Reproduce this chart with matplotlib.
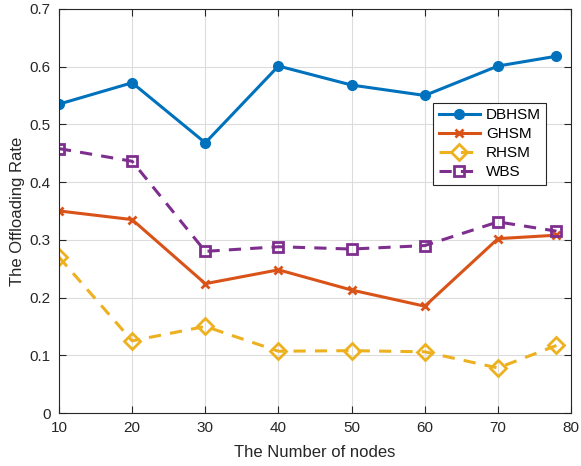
import matplotlib
matplotlib.use("Agg")
import matplotlib.pyplot as plt

plt.rcParams['font.family'] = ['Liberation Sans', 'DejaVu Sans']

nodes = [10, 20, 30, 40, 50, 60, 70, 78]
dbhsm = [0.535, 0.572, 0.468, 0.601, 0.568, 0.550, 0.601, 0.618]
ghsm = [0.350, 0.335, 0.224, 0.248, 0.213, 0.185, 0.302, 0.308]
rhsm = [0.270, 0.125, 0.150, 0.107, 0.108, 0.106, 0.078, 0.117]
wbs = [0.458, 0.436, 0.280, 0.288, 0.284, 0.290, 0.331, 0.315]
x_ticks = [10, 20, 30, 40, 50, 60, 70, 80]
y_ticks = [0, 0.1, 0.2, 0.3, 0.4, 0.5, 0.6, 0.7]

fig = plt.figure(figsize=(5.81, 4.66), dpi=100)
ax = fig.add_axes([0.1015, 0.1137, 0.8815, 0.8673])

ax.plot(nodes, dbhsm, color='#0072BD', lw=2.2, marker='o', ms=7, label='DBHSM')
ax.plot(nodes, ghsm, color='#D95319', lw=2.2, marker='x', ms=6, mew=2, label='GHSM')
ax.plot(nodes, rhsm, color='#EDB120', lw=2.2, ls=(0, (4, 3)), marker='D', ms=8,
        mfc='none', mew=2, label='RHSM')
ax.plot(nodes, wbs, color='#7E2F8E', lw=2.2, ls=(0, (4, 3)), marker='s', ms=7,
        mfc='none', mew=2, label='WBS')

ax.set_xlim(10, 80)
ax.set_ylim(0, 0.7)
ax.set_xticks(x_ticks)
ax.set_yticks(y_ticks)
ax.set_yticklabels(['0', '0.1', '0.2', '0.3', '0.4', '0.5', '0.6', '0.7'])
ax.grid(True, color='#dcdcdc', lw=0.8)
ax.set_axisbelow(True)
ax.tick_params(direction='in', length=5, labelsize=11, colors='#262626',
               top=True, right=True, pad=6)
for s in ax.spines.values():
    s.set_color('#262626')
    s.set_linewidth(0.8)

ax.set_xlabel('The Number of nodes', fontsize=12, color='#262626', labelpad=7)
ax.set_ylabel('The Offloading Rate', fontsize=12, color='#262626', labelpad=3)

leg = ax.legend(loc='upper left', bbox_to_anchor=(0.731, 0.767), fontsize=11,
                fancybox=False, edgecolor='#262626', framealpha=1,
                handlelength=2.7, borderpad=0.35, labelspacing=0.33,
                handletextpad=0.4, borderaxespad=0)
leg.get_frame().set_linewidth(0.8)

fig.savefig('out.png', dpi=100)
